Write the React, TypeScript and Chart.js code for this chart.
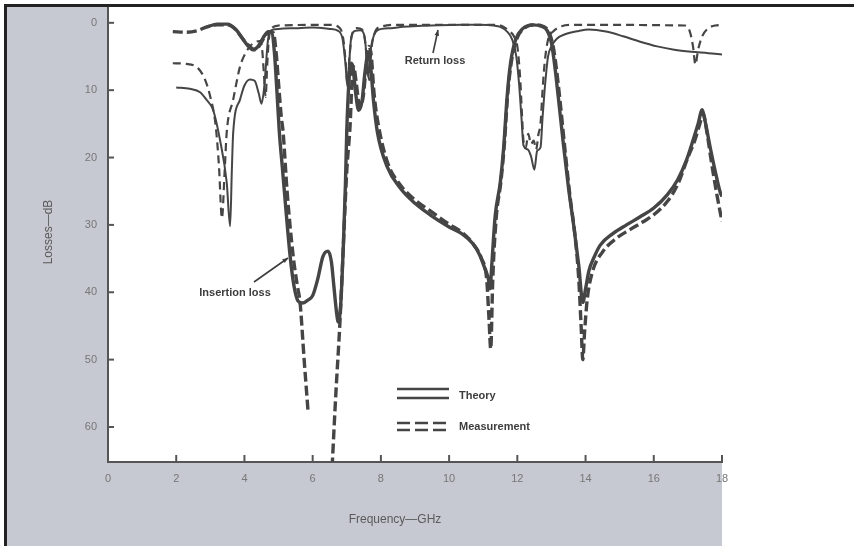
import React, { useEffect, useRef } from 'react';
import { Chart, registerables } from 'chart.js';

Chart.register(...registerables);

// ---- axis ticks ----
const xTicks = [0, 2, 4, 6, 8, 10, 12, 14, 16, 18];
const yTicks = [0, 10, 20, 30, 40, 50, 60];

// ---- Insertion loss, theory (GHz / dB) ----
const ilTheoryF = [2.9, 3.2, 3.5, 3.75, 3.95, 4.1, 4.25, 4.4, 4.55, 4.7, 4.8, 4.88, 4.95, 5.02, 5.12, 5.22, 5.34, 5.45, 5.57, 5.7, 5.85, 6.0, 6.15, 6.3, 6.45, 6.55, 6.62, 6.7, 6.75, 6.82, 6.9, 6.96, 7.0, 7.06, 7.12, 7.18, 7.25, 7.35, 7.45, 7.53, 7.62, 7.7, 7.78, 7.9, 8.18, 8.56, 9.0, 9.44, 10.0, 10.4, 10.7, 10.9, 11.05, 11.15, 11.2, 11.25, 11.35, 11.5, 11.6, 11.7, 11.8, 11.95, 12.15, 12.45, 12.7, 12.88, 13.0, 13.1, 13.2, 13.35, 13.5, 13.65, 13.8, 13.92, 14.0, 14.1, 14.25, 14.43, 14.8, 15.2, 15.6, 16.0, 16.4, 16.7, 16.95, 17.16, 17.3, 17.42, 17.5, 17.65, 17.8, 17.95, 18.0];
const ilTheoryDb = [0.6, 0.2, 0.2, 1.0, 2.4, 3.4, 4.0, 3.5, 2.2, 1.3, 1.4, 4.5, 10, 16, 22, 28, 34.7, 39, 41.3, 41.6, 41.2, 40.5, 38, 34.7, 33.9, 35.5, 39, 43, 44.4, 42, 33, 24, 16, 9, 6, 6.5, 10, 13, 11.5, 7.5, 4.8, 6.5, 11.4, 16.3, 21.3, 24.5, 26.8, 28.5, 30.3, 31.4, 32.8, 34.5, 36.5, 38, 39.5, 36, 28.7, 23.7, 18.5, 11, 6, 2.5, 0.9, 0.3, 0.5, 1.2, 3, 6.5, 11, 18, 24.5, 30, 36, 41.5, 39.5, 36.8, 34.8, 33, 31.3, 30, 28.8, 27.5, 25.5, 23.3, 20.5, 17.3, 15, 12.9, 14.5, 18.4, 22, 25.2, 25.8];

// ---- Insertion loss, measurement ----
const ilMeasF = [1.9, 2.3, 2.6, 2.9, 3.2, 3.5, 3.7, 3.85, 4.0, 4.15, 4.3, 4.45, 4.6, 4.75, 4.85, 4.93, 5.0, 5.08, 5.13, 5.25, 5.43, 5.55, 5.63, 5.75, 5.87, 6.2, 6.57, 6.68, 6.8, 6.9, 7.0, 7.1, 7.15, 7.2, 7.28, 7.38, 7.48, 7.56, 7.65, 7.72, 7.8, 7.92, 8.2, 8.56, 9.0, 9.44, 10.0, 10.4, 10.7, 10.95, 11.1, 11.17, 11.22, 11.28, 11.38, 11.52, 11.62, 11.72, 11.85, 12.0, 12.2, 12.5, 12.75, 12.92, 13.05, 13.15, 13.25, 13.4, 13.55, 13.7, 13.8, 13.87, 13.92, 13.97, 14.05, 14.2, 14.5, 14.9, 15.3, 15.7, 16.0, 16.4, 16.7, 17.0, 17.2, 17.35, 17.45, 17.55, 17.7, 17.85, 18.0];
const ilMeasDb = [1.3, 1.4, 1.2, 0.6, 0.3, 0.3, 0.8, 1.7, 2.7, 3.5, 4.0, 3.3, 2.0, 1.3, 1.5, 4.5, 9, 14, 16, 25, 34.7, 39, 41.5, 50, 58, null, 66, 55, 44.4, 33, 22, 15, 9, 6.5, 9, 12.5, 11, 7, 3.5, 5, 10.5, 15, 20.8, 24, 26.3, 27.9, 29.9, 31.2, 32.8, 35, 38, 44, 48.4, 38, 29, 23.5, 18, 10.5, 5, 2.2, 0.8, 0.3, 0.5, 1.3, 3.5, 7, 11.5, 19, 26, 32, 38, 45, 50, 46, 41, 37, 34, 32, 30.7, 29.5, 28.5, 26.5, 24, 20, 17.5, 15, 13.5, 16, 21, 25.5, 29.5];

// ---- Return loss, theory ----
const rlTheoryF = [2.0, 2.4, 2.7, 2.9, 3.08, 3.28, 3.48, 3.58, 3.63, 3.67, 3.87, 4.0, 4.16, 4.3, 4.42, 4.5, 4.57, 4.62, 4.68, 4.75, 4.85, 5.0, 5.5, 6.0, 6.5, 6.75, 6.88, 6.96, 7.02, 7.07, 7.13, 7.25, 7.4, 7.52, 7.58, 7.63, 7.7, 7.8, 7.9, 8.3, 8.65, 9.2, 9.7, 10.4, 10.9, 11.3, 11.5, 11.7, 11.85, 11.97, 12.05, 12.12, 12.18, 12.3, 12.4, 12.5, 12.58, 12.68, 12.74, 12.8, 12.9, 13.0, 13.15, 13.4, 13.8, 14.1, 14.6, 15.1, 15.6, 16.1, 16.6, 17.1, 17.6, 18.0];
const rlTheoryDb = [9.6, 9.8, 10.3, 11.5, 12.9, 17.3, 23.7, 30.2, 22, 16.3, 11.4, 9.3, 8.4, 8.6, 10.5, 12, 10, 7, 3, 1.3, 1.0, 0.9, 0.8, 0.7, 0.9, 1.2, 2.5, 6, 9.5, 6, 2.2, 1.2, 1.1, 2, 5, 8, 4, 1.8, 1.1, 0.8, 0.6, 0.45, 0.35, 0.3, 0.3, 0.4, 0.6, 1.3, 2.5, 5, 9, 14, 18.2, 18.8, 19.8, 21.8, 19, 18.5, 14, 10, 5, 3.5, 2.4, 1.7, 1.2, 1.0, 1.3, 2.0, 2.8, 3.5, 4.0, 4.3, 4.5, 4.7];

// ---- Return loss, measurement ----
const rlMeasF = [1.9, 2.3, 2.65, 2.85, 3.0, 3.15, 3.25, 3.34, 3.42, 3.48, 3.67, 3.87, 4.0, 4.16, 4.3, 4.45, 4.52, 4.57, 4.62, 4.67, 4.72, 4.8, 5.0, 6.5, 6.8, 6.9, 6.97, 7.02, 7.08, 7.15, 7.3, 7.45, 7.53, 7.6, 7.66, 7.72, 7.82, 8.0, 8.5, 11.4, 11.6, 11.75, 11.9, 12.0, 12.08, 12.13, 12.18, 12.25, 12.32, 12.4, 12.48, 12.55, 12.62, 12.68, 12.74, 12.8, 12.9, 13.05, 13.3, 13.55, 16.9, 17.05, 17.15, 17.22, 17.3, 17.42, 17.6, 17.8, 18.0];
const rlMeasDb = [6.0, 6.1, 6.8, 8.5, 11, 15, 21, 29, 22, 16.3, 11.4, 6.5, 4.8, 3.5, 2.9, 2.7, 4, 7.5, 11, 6, 2.2, 0.8, 0.4, 0.3, 0.8, 2.5, 6, 9, 5, 1.8, 0.8, 1.0, 2.5, 6, 8.5, 4, 1.5, 0.6, 0.3, 0.3, 0.6, 1.2, 2, 3.5, 8, 13, 17.5, 18.5, 16.5, 18, 17.5, 18.8, 16.5, 15, 10, 6, 2.5, 1.3, 0.5, 0.3, 0.4, 1.2, 3.5, 6.2, 4, 2, 0.8, 0.4, 0.3];

const toXY = (f: number[], d: (number | null)[]) => f.map((x, i) => ({ x, y: d[i] }));

const INK = '#454545';
const GRAY_BG = '#c6c9d1';
const PLOT_L = 108, PLOT_R = 722, PLOT_T = 8, PLOT_B = 462;
const W = 854, H = 546;

function arrow(ctx: CanvasRenderingContext2D, x1: number, y1: number, x2: number, y2: number) {
  ctx.beginPath();
  ctx.moveTo(x1, y1);
  ctx.lineTo(x2, y2);
  ctx.stroke();
  const a = Math.atan2(y2 - y1, x2 - x1);
  const L = 6;
  ctx.beginPath();
  ctx.moveTo(x2, y2);
  ctx.lineTo(x2 - L * Math.cos(a - 0.4), y2 - L * Math.sin(a - 0.4));
  ctx.lineTo(x2 - L * Math.cos(a + 0.4), y2 - L * Math.sin(a + 0.4));
  ctx.closePath();
  ctx.fill();
}

const framePlugin = {
  id: 'frame',
  afterDraw(chart: any) {
    const { ctx, chartArea: ca, scales } = chart;
    const xs = scales.x, ys = scales.y;
    ctx.save();
    // inward ticks
    ctx.strokeStyle = '#555';
    ctx.lineWidth = 2;
    yTicks.forEach((v) => {
      const py = ys.getPixelForValue(v);
      ctx.beginPath();
      ctx.moveTo(ca.left, py);
      ctx.lineTo(ca.left + 6, py);
      ctx.stroke();
    });
    xTicks.forEach((v) => {
      const px = xs.getPixelForValue(v);
      ctx.beginPath();
      ctx.moveTo(px, ca.bottom);
      ctx.lineTo(px, ca.bottom - 7);
      ctx.stroke();
    });
    // axis titles
    ctx.fillStyle = '#5a5a5a';
    ctx.font = '12px "Liberation Sans", Arial, sans-serif';
    ctx.textAlign = 'center';
    ctx.textBaseline = 'middle';
    ctx.fillText('Frequency\u2014GHz', 395, 520);
    ctx.save();
    ctx.translate(49, 232);
    ctx.rotate(-Math.PI / 2);
    ctx.fillText('Losses\u2014dB', 0, 0);
    ctx.restore();
    // annotations
    ctx.fillStyle = '#3d3d3d';
    ctx.strokeStyle = '#3d3d3d';
    ctx.lineWidth = 1.6;
    ctx.font = 'bold 11px "Liberation Sans", Arial, sans-serif';
    ctx.textAlign = 'center';
    ctx.fillText('Return loss', 435, 61);
    arrow(ctx, 433, 53, 438, 30);
    ctx.fillText('Insertion loss', 235, 293);
    arrow(ctx, 254, 282, 288, 258);
    // legend
    ctx.textAlign = 'left';
    ctx.fillText('Theory', 459, 396);
    ctx.fillText('Measurement', 459, 427);
    ctx.lineWidth = 2.4;
    ctx.strokeStyle = INK;
    [389, 398].forEach((y) => {
      ctx.beginPath();
      ctx.moveTo(397, y);
      ctx.lineTo(449, y);
      ctx.stroke();
    });
    ctx.setLineDash([13, 5]);
    [423, 430].forEach((y) => {
      ctx.beginPath();
      ctx.moveTo(397, y);
      ctx.lineTo(449, y);
      ctx.stroke();
    });
    ctx.restore();
  },
};

const box = (left: number, top: number, width: number, height: number, bg: string): React.CSSProperties => ({
  position: 'absolute', left, top, width, height, background: bg,
});

export default function App() {
  const ref = useRef<HTMLCanvasElement | null>(null);
  useEffect(() => {
    document.body.style.margin = '0';
    const canvas = ref.current;
    if (!canvas) return;
    const common = { pointRadius: 0, borderColor: INK, fill: false, cubicInterpolationMode: 'monotone' as const };
    const chart = new Chart(canvas, {
      type: 'line',
      data: {
        datasets: [
          { label: 'Insertion loss (theory)', data: toXY(ilTheoryF, ilTheoryDb), borderWidth: 3.4, ...common },
          { label: 'Insertion loss (measurement)', data: toXY(ilMeasF, ilMeasDb), borderWidth: 3.4, borderDash: [10, 4], ...common },
          { label: 'Return loss (theory)', data: toXY(rlTheoryF, rlTheoryDb), borderWidth: 2, ...common },
          { label: 'Return loss (measurement)', data: toXY(rlMeasF, rlMeasDb), borderWidth: 2.2, borderDash: [8, 5], ...common },
        ] as any,
      },
      options: {
        animation: false,
        responsive: false,
        maintainAspectRatio: false,
        layout: { padding: { left: 0, top: PLOT_T, right: W - PLOT_R, bottom: 0 } },
        plugins: { legend: { display: false }, tooltip: { enabled: false } },
        scales: {
          x: {
            type: 'linear',
            min: 0,
            max: 18,
            grid: { display: false, drawTicks: false },
            border: { display: true, color: '#555', width: 2 },
            afterBuildTicks: (s: any) => { s.ticks = xTicks.map((v) => ({ value: v })); },
            afterFit: (s: any) => { s.height = H - PLOT_B; s.paddingLeft = 0; s.paddingRight = 0; },
            ticks: { color: '#777', font: { size: 11, family: '"Liberation Sans", Arial, sans-serif' }, padding: 10, maxRotation: 0, autoSkip: false },
          },
          y: {
            type: 'linear',
            reverse: true,
            min: -2.2,
            max: 65.2,
            grid: { display: false, drawTicks: false },
            border: { display: true, color: '#555', width: 2 },
            afterBuildTicks: (s: any) => { s.ticks = yTicks.map((v) => ({ value: v })); },
            afterFit: (s: any) => { s.width = PLOT_L; s.paddingTop = 0; s.paddingBottom = 0; },
            ticks: { color: '#777', font: { size: 11, family: '"Liberation Sans", Arial, sans-serif' }, padding: 11 },
          },
        },
      },
      plugins: [framePlugin],
    });
    return () => chart.destroy();
  }, []);
  return (
    <div style={{ position: 'fixed', left: 0, top: 0, width: W, height: H, background: '#ffffff', overflow: 'hidden' }}>
      <div style={box(7, 7, PLOT_L - 7, H - 7, GRAY_BG)} />
      <div style={box(7, PLOT_B, PLOT_R - 7, H - PLOT_B, GRAY_BG)} />
      <div style={box(4, 4, W - 4, 3, '#222')} />
      <div style={box(4, 4, 3, H - 4, '#222')} />
      <canvas ref={ref} width={W} height={H} style={{ position: 'absolute', left: 0, top: 0, width: W, height: H, display: 'block' }} />
    </div>
  );
}
